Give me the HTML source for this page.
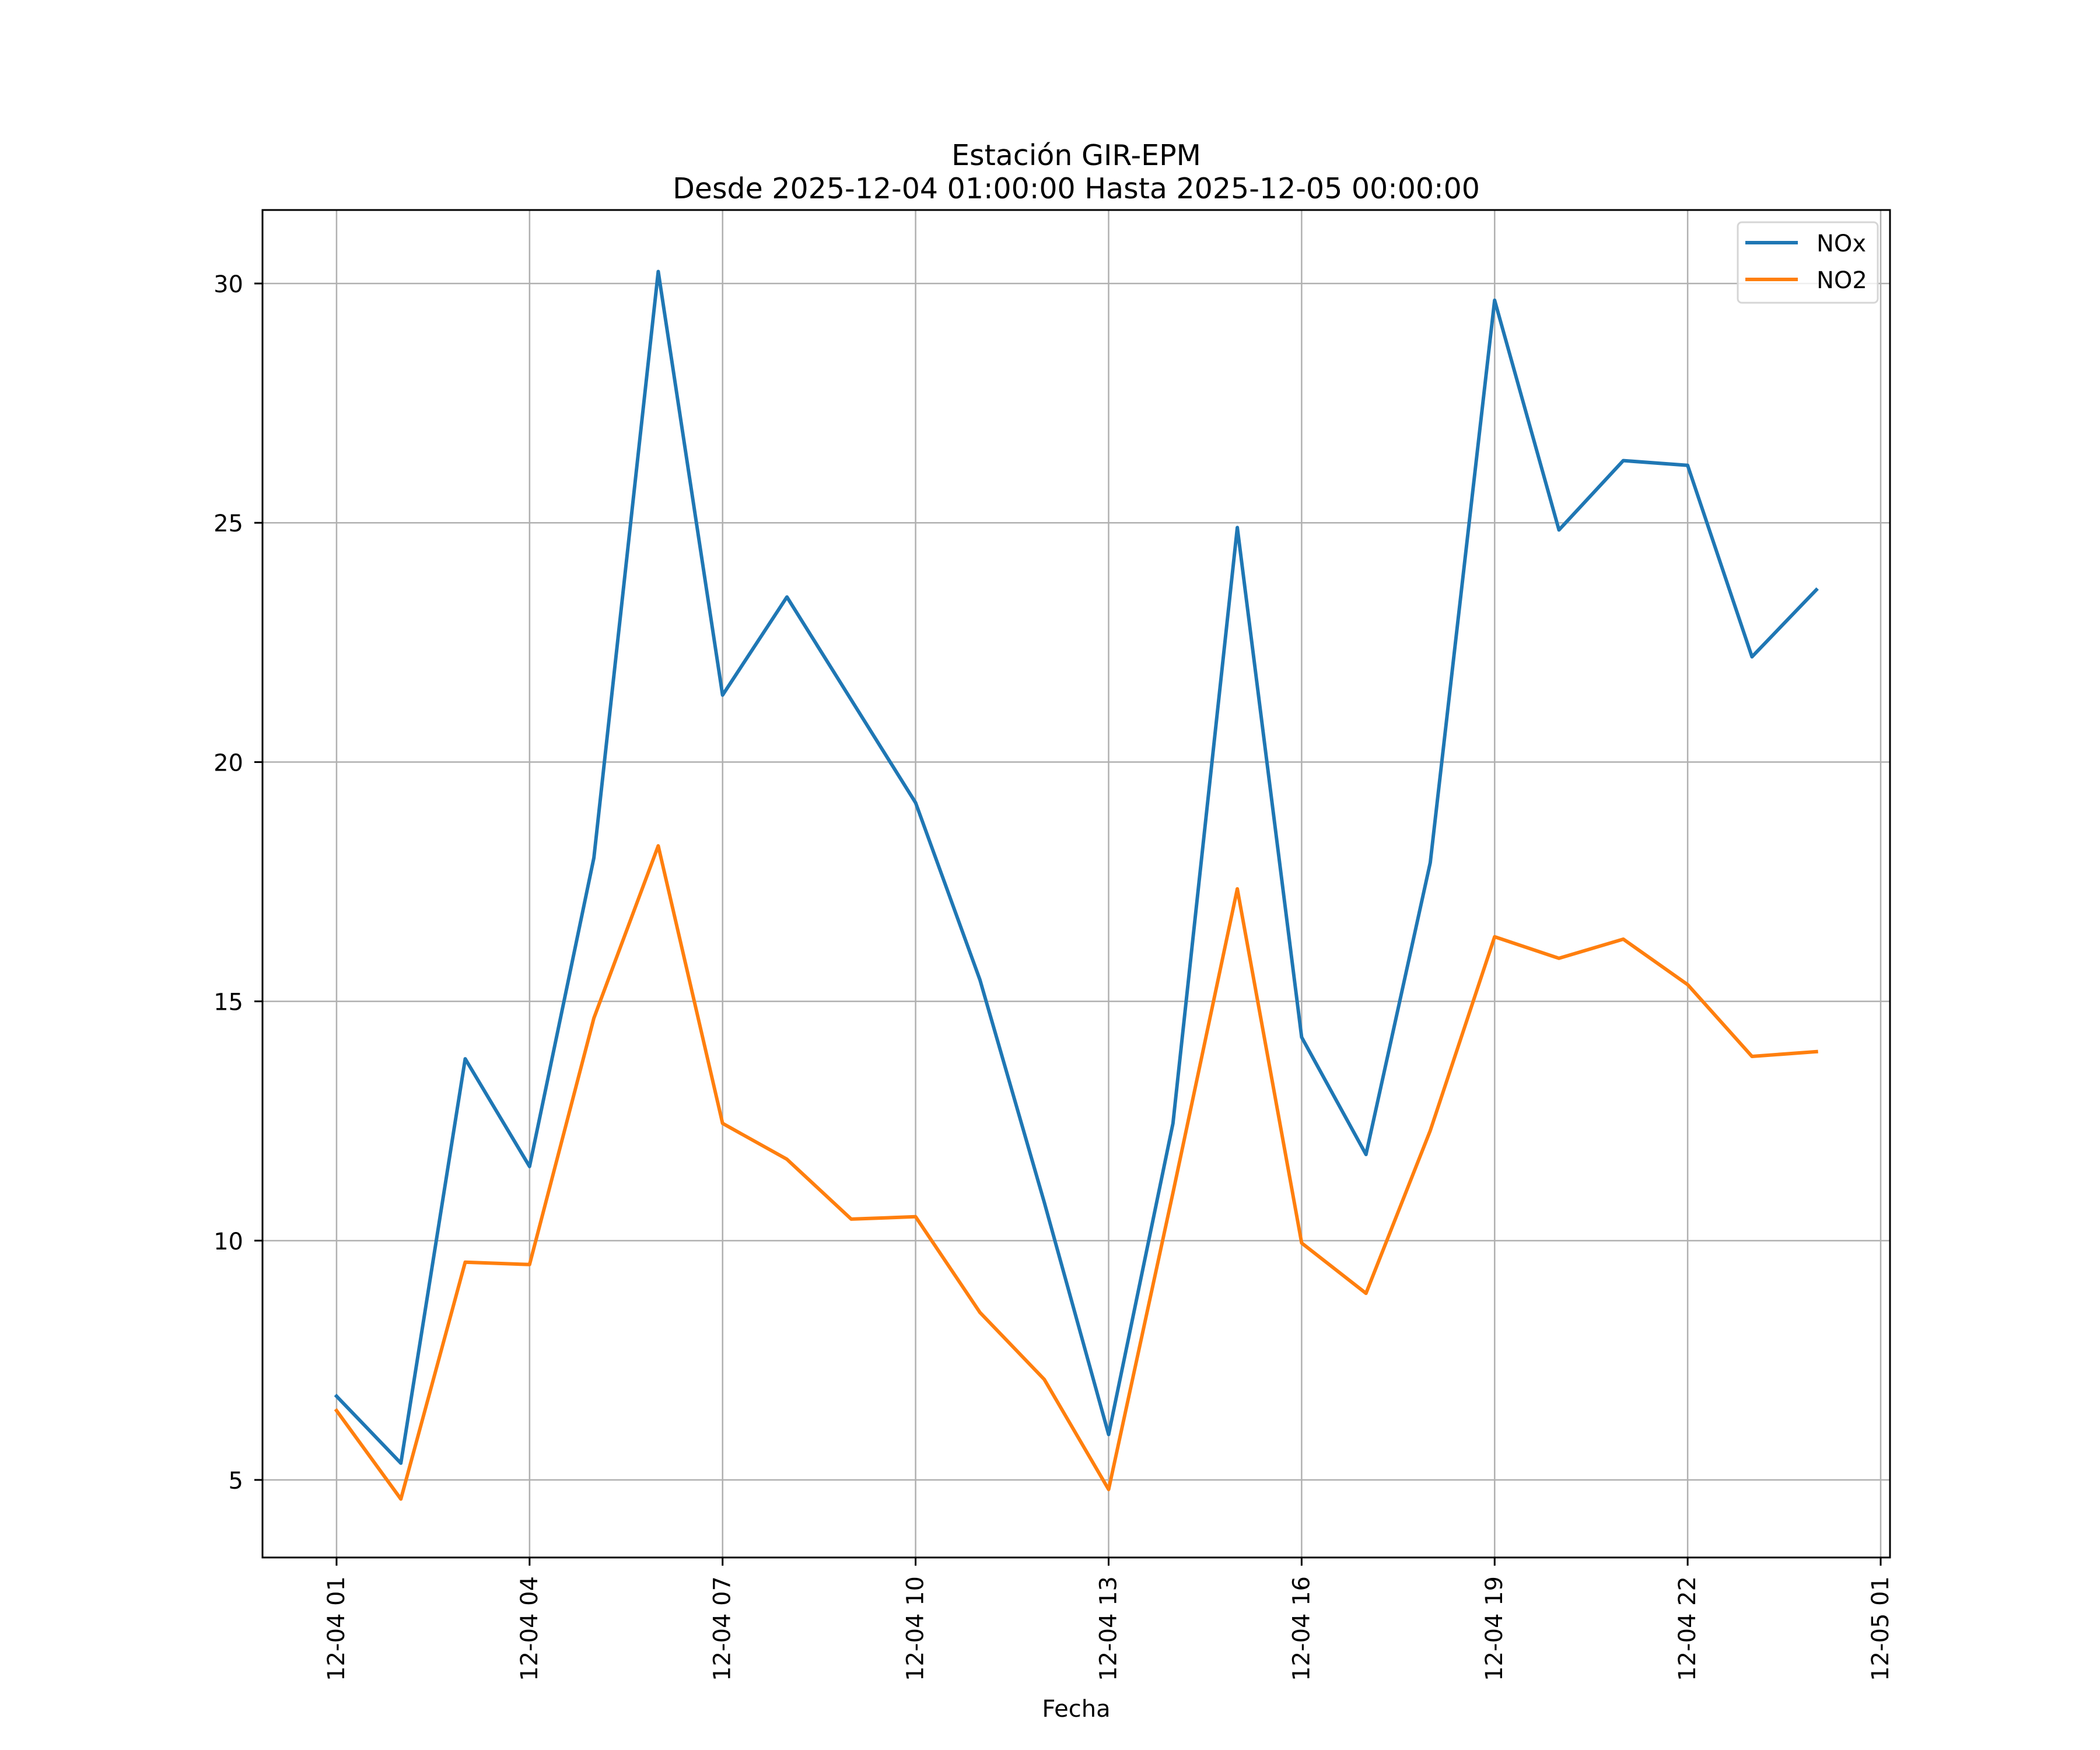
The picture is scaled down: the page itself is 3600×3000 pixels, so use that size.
<!DOCTYPE html>
<html><head><meta charset="utf-8"><style>
html,body{margin:0;padding:0;background:#fff;}
svg{display:block;font-family:"DejaVu Sans","Liberation Sans",sans-serif;}
</style></head><body>
<svg id="chart" width="3600" height="3000" viewBox="0 0 3600 3000">
<rect width="3600" height="3000" fill="#fff"/>
<text x="1845" y="283" font-size="49" text-anchor="middle">Estación GIR-EPM</text>
<text x="1845" y="340" font-size="49" text-anchor="middle">Desde 2025-12-04 01:00:00 Hasta 2025-12-05 00:00:00</text>
<g id="grid"></g>
<g id="series"></g>
<rect x="450" y="360" width="2790" height="2310" fill="none" stroke="#000" stroke-width="3"/>
<g id="ticks"></g>
<text x="1845" y="2943" font-size="40" text-anchor="middle">Fecha</text>
<g>
<rect x="2979" y="381" width="240" height="138" rx="7" fill="#fff" fill-opacity="0.8" stroke="#d6d6d6" stroke-width="3"/>
<line x1="2992" y1="416" x2="3082" y2="416" stroke="#1f77b4" stroke-width="6"/>
<text x="3114" y="431" font-size="40">NOx</text>
<line x1="2992" y1="479" x2="3082" y2="479" stroke="#ff7f0e" stroke-width="6"/>
<text x="3114" y="494" font-size="40">NO2</text>
</g>
</svg>
<script>
const hours = [1,2,3,4,5,6,7,8,9,10,11,12,13,14,15,16,17,18,19,20,21,22,23,24];
const noxValues = [6.75,5.35,13.8,11.55,18.0,30.25,21.4,23.45,21.3,19.15,15.45,10.8,5.95,12.45,24.9,14.25,11.8,17.9,29.65,24.85,26.3,26.2,22.2,23.6];
const no2Values = [6.45,4.6,9.55,9.5,14.65,18.25,12.45,11.7,10.45,10.5,8.5,7.1,4.8,11.0,17.35,9.95,8.9,12.3,16.35,15.9,16.3,15.35,13.85,13.95];
const yTicks = [5,10,15,20,25,30];
const xTickHours = [1,4,7,10,13,16,19,22,25];
const xTickLabels = ["12-04 01","12-04 04","12-04 07","12-04 10","12-04 13","12-04 16","12-04 19","12-04 22","12-05 01"];

const L=450,R=3240,T=360,B=2670;
const xMin=-0.151,xMax=25.145,yMin=3.379,yMax=31.536;
const sx=h=>L+(h-xMin)/(xMax-xMin)*(R-L);
const sy=v=>B-(v-yMin)/(yMax-yMin)*(B-T);
const NS="http://www.w3.org/2000/svg";
const grid=document.getElementById('grid'),ticks=document.getElementById('ticks'),series=document.getElementById('series');
function mk(tag,attrs,parent){const e=document.createElementNS(NS,tag);for(const k in attrs)e.setAttribute(k,attrs[k]);parent.appendChild(e);return e;}

yTicks.forEach(v=>{
  const y=sy(v);
  const g=mk('line',{x1:L,x2:R,y1:y,y2:y,stroke:'#b0b0b0','stroke-width':2.5},grid);
  
  
  const t=mk('line',{x1:L-14,x2:L,y1:y,y2:y,stroke:'#000','stroke-width':3},ticks);
  
  
  const lb=mk('text',{x:L-33,y:y+15,'font-size':40,'text-anchor':'end'},ticks);
  lb.textContent=v;
  
  
});
xTickHours.forEach((h,i)=>{
  const x=sx(h);
  const g=mk('line',{x1:x,x2:x,y1:T,y2:B,stroke:'#b0b0b0','stroke-width':2.5},grid);
  
  
  const t=mk('line',{x1:x,x2:x,y1:B,y2:B+14,stroke:'#000','stroke-width':3},ticks);
  
  
  const lb=mk('text',{x:0,y:0,'font-size':40,'text-anchor':'end',transform:`translate(${x+13},${B+32}) rotate(-90)`},ticks);
  lb.textContent=xTickLabels[i];
  
  
});
function drawLine(vals,color,name){
  const pts=vals.map((v,i)=>sx(hours[i]).toFixed(1)+','+sy(v).toFixed(1)).join(' ');
  const p=mk('polyline',{points:pts,fill:'none',stroke:color,'stroke-width':6,'stroke-linejoin':'round','stroke-linecap':'square'},series);
  
  
}
drawLine(noxValues,'#1f77b4','nox-line');
drawLine(no2Values,'#ff7f0e','no2-line');
</script>
</body></html>
